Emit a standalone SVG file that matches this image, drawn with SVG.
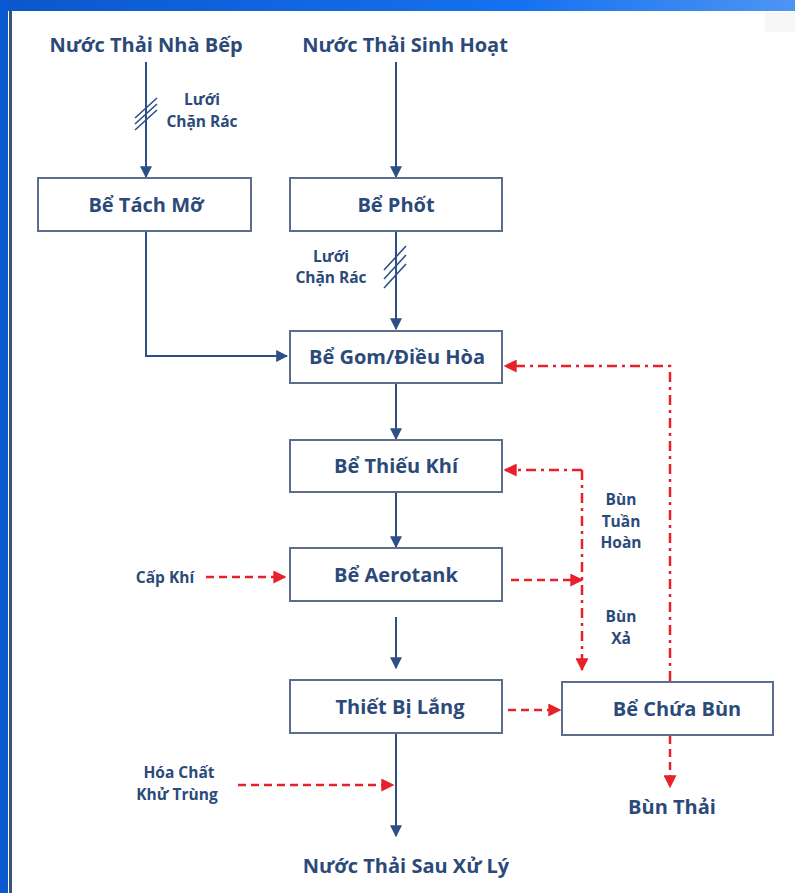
<svg xmlns="http://www.w3.org/2000/svg" width="795" height="893" viewBox="0 0 795 893">
<defs>
<linearGradient id="topg" x1="0" y1="0" x2="1" y2="0">
<stop offset="0" stop-color="#0b57cc"/>
<stop offset="0.65" stop-color="#1671f0"/>
<stop offset="1" stop-color="#4d95f2"/>
</linearGradient>
<marker id="ab" viewBox="0 0 10 10" refX="9" refY="5" markerWidth="12" markerHeight="12" markerUnits="userSpaceOnUse" orient="auto">
<path d="M0,0 L10,5 L0,10 z" fill="#2d4f86"/>
</marker>
<marker id="ar" viewBox="0 0 10 10" refX="9" refY="5" markerWidth="13" markerHeight="13" markerUnits="userSpaceOnUse" orient="auto">
<path d="M0,0 L10,5 L0,10 z" fill="#e8202a"/>
</marker>
</defs>
<style>
.box{fill:#ffffff;stroke:#5d6d8e;stroke-width:2}
.t{font-family:"Open Sans","Noto Sans",sans-serif;font-weight:bold;fill:#2b4a7a;text-anchor:middle}
.big{font-size:20px}
.sm{font-size:15.5px}
.bl{stroke:#2d4f86;stroke-width:2;fill:none}
.hat{stroke:#2d4f86;stroke-width:1.6;fill:none}
.rd{stroke:#e8202a;stroke-width:2.5;fill:none;stroke-dasharray:8 5}
.rdd{stroke:#e8202a;stroke-width:2.5;fill:none;stroke-dasharray:10 5 3 5}
</style>
<rect x="0" y="0" width="795" height="893" fill="#ffffff"/>
<rect x="0" y="0" width="795" height="11" fill="url(#topg)"/>
<rect x="0" y="0" width="8" height="893" fill="#0b5ad2"/>
<rect x="9" y="11" width="3" height="882" fill="#3a5478"/>
<rect x="765" y="12" width="30" height="20" fill="#f6f6f6"/>

<g id="connectors">
<line class="bl" x1="146" y1="62" x2="146" y2="177" marker-end="url(#ab)"/>
<path class="hat" d="M135,118 L157,98 M135,124 L157,104 M135,130 L157,110"/>
<line class="bl" x1="396" y1="62" x2="396" y2="177" marker-end="url(#ab)"/>
<line class="bl" x1="396" y1="232" x2="396" y2="329" marker-end="url(#ab)"/>
<path class="hat" d="M384,270 L406,246 M384,279 L406,255 M384,288 L406,264"/>
<path class="bl" d="M146,232 L146,356 L287,356" marker-end="url(#ab)"/>
<line class="bl" x1="396" y1="384" x2="396" y2="439" marker-end="url(#ab)"/>
<line class="bl" x1="396" y1="493" x2="396" y2="547" marker-end="url(#ab)"/>
<line class="bl" x1="396" y1="617" x2="396" y2="668" marker-end="url(#ab)"/>
<line class="bl" x1="396" y1="734" x2="396" y2="836" marker-end="url(#ab)"/>

<line class="rd" x1="206" y1="577" x2="285" y2="577" marker-end="url(#ar)"/>
<line class="rd" x1="511" y1="580" x2="582" y2="580" marker-end="url(#ar)"/>
<path class="rdd" d="M582,470 L505,470" marker-end="url(#ar)"/>
<line class="rdd" x1="582" y1="470" x2="582" y2="670" marker-end="url(#ar)"/>
<line class="rd" x1="508" y1="710" x2="560" y2="710" marker-end="url(#ar)"/>
<path class="rdd" d="M670,681 L670,366 L505,366" marker-end="url(#ar)"/>
<line class="rd" x1="670" y1="736" x2="670" y2="787" marker-end="url(#ar)"/>
<line class="rd" x1="238" y1="785" x2="393" y2="785" marker-end="url(#ar)"/>
</g>

<g id="src-kitchen"><text class="t big" x="146" y="52">Nước Thải Nhà Bếp</text></g>
<g id="src-domestic"><text class="t big" x="405" y="52">Nước Thải Sinh Hoạt</text></g>
<g id="screen1"><text class="t sm" x="202" y="105">Lưới</text><text class="t sm" x="202" y="127">Chặn Rác</text></g>
<g id="screen2"><text class="t sm" x="331" y="262">Lưới</text><text class="t sm" x="331" y="283">Chặn Rác</text></g>

<g id="n-tachmo"><rect class="box" x="38" y="178" width="213" height="53"/><text class="t big" x="146" y="212">Bể Tách Mỡ</text></g>
<g id="n-phot"><rect class="box" x="290" y="178" width="212" height="53"/><text class="t big" x="396" y="212">Bể Phốt</text></g>
<g id="n-gom"><rect class="box" x="290" y="331" width="212" height="52"/><text class="t big" x="397" y="364">Bể Gom/Điều Hòa</text></g>
<g id="n-thieukhi"><rect class="box" x="290" y="440" width="212" height="52"/><text class="t big" x="396" y="473">Bể Thiếu Khí</text></g>
<g id="n-aerotank"><rect class="box" x="290" y="548" width="212" height="53"/><text class="t big" x="396" y="582">Bể Aerotank</text></g>
<g id="n-lang"><rect class="box" x="290" y="680" width="212" height="53"/><text class="t big" x="400" y="714">Thiết Bị Lắng</text></g>
<g id="n-chuabun"><rect class="box" x="562" y="682" width="211" height="53"/><text class="t big" x="677" y="716">Bể Chứa Bùn</text></g>

<g id="air"><text class="t sm" x="165" y="583">Cấp Khí</text></g>
<g id="sludge-return"><text class="t sm" x="621" y="505">Bùn</text><text class="t sm" x="621" y="527">Tuần</text><text class="t sm" x="621" y="548">Hoàn</text></g>
<g id="sludge-waste"><text class="t sm" x="621" y="622">Bùn</text><text class="t sm" x="621" y="644">Xả</text></g>
<g id="chem"><text class="t sm" x="179" y="778">Hóa Chất</text><text class="t sm" x="177" y="800">Khử Trùng</text></g>
<g id="out-sludge"><text class="t big" x="672" y="814">Bùn Thải</text></g>
<g id="out-water"><text class="t big" x="406" y="873">Nước Thải Sau Xử Lý</text></g>
</svg>
